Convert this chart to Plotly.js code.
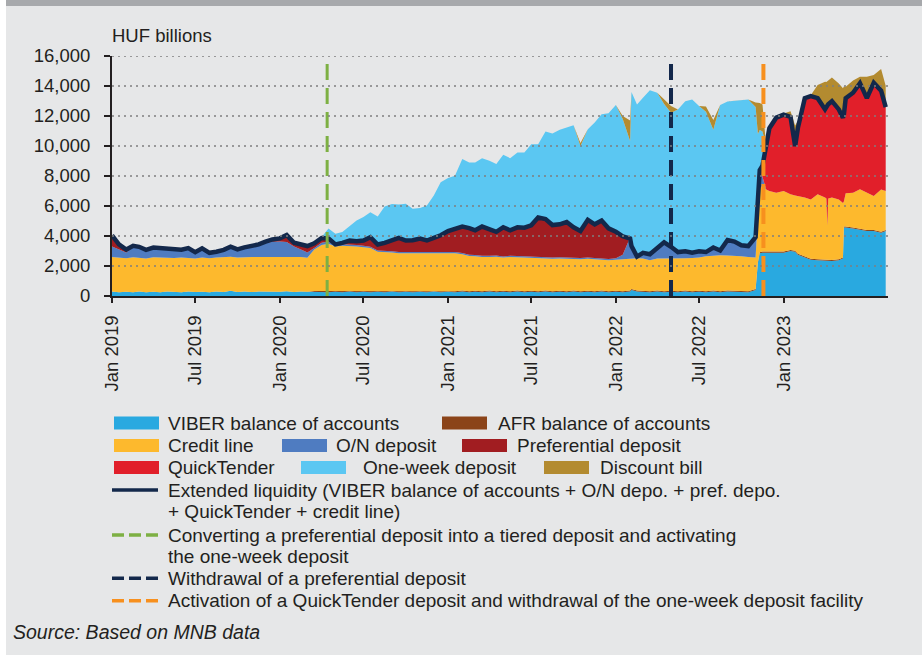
<!DOCTYPE html>
<html><head><meta charset="utf-8">
<script src="https://cdn.plot.ly/plotly-3.0.1.min.js"></script>
<style>
html,body{margin:0;padding:0;background:#ffffff;width:922px;height:657px;overflow:hidden}
#band{position:absolute;left:6px;top:0;width:916px;height:6px;background:#a7a9ac}
#chart{position:absolute;left:6px;top:6px;width:916px;height:649px}
</style></head><body>
<div id="band"></div><div id="chart"></div>
<script>
// ---------------- DATA (HUF billions) ----------------
const dates = [
 '2019-01-01','2019-01-16','2019-02-01','2019-02-16','2019-03-01','2019-03-16','2019-04-01','2019-04-16','2019-05-01','2019-05-16','2019-06-01','2019-06-16',
 '2019-07-01','2019-07-16','2019-08-01','2019-08-16','2019-09-01','2019-09-16','2019-10-01','2019-10-16','2019-11-01','2019-11-16','2019-12-01','2019-12-16',
 '2020-01-01','2020-01-16','2020-02-01','2020-02-16','2020-03-01','2020-03-16','2020-04-01','2020-04-16','2020-05-01','2020-05-16','2020-06-01','2020-06-16',
 '2020-07-01','2020-07-16','2020-08-01','2020-08-16','2020-09-01','2020-09-16','2020-10-01','2020-10-16','2020-11-01','2020-11-16','2020-12-01','2020-12-16',
 '2021-01-01','2021-01-16','2021-02-01','2021-02-16','2021-03-01','2021-03-16','2021-04-01','2021-04-16','2021-05-01','2021-05-16','2021-06-01','2021-06-16',
 '2021-07-01','2021-07-16','2021-08-01','2021-08-16','2021-09-01','2021-09-16','2021-10-01','2021-10-16','2021-11-01','2021-11-16','2021-12-01','2021-12-16',
 '2022-01-01','2022-01-16','2022-02-01','2022-02-04','2022-02-16','2022-03-01','2022-03-16','2022-04-01','2022-04-16','2022-05-01','2022-05-16','2022-06-01','2022-06-16',
 '2022-07-01','2022-07-16','2022-08-01','2022-08-16','2022-09-01','2022-09-16','2022-10-01','2022-10-16','2022-11-01','2022-11-06','2022-11-10','2022-11-16','2022-11-24','2022-12-01','2022-12-16',
 '2023-01-01','2023-01-16','2023-01-26','2023-02-01','2023-02-16','2023-03-01','2023-03-16','2023-04-01','2023-04-04','2023-04-06','2023-04-08','2023-04-16',
 '2023-05-01','2023-05-10','2023-05-12','2023-05-16','2023-06-01','2023-06-16','2023-07-01','2023-07-16','2023-08-01','2023-08-11'
];
const viberBalance = [
 300,250,280,250,300,250,280,250,300,270,250,300,260,280,250,300,260,350,260,300,260,300,280,300,
 280,320,260,300,280,300,280,250,280,250,300,250,280,250,280,250,300,250,280,250,280,250,300,250,
 280,250,300,250,280,250,300,250,280,250,300,250,280,250,300,250,280,250,300,250,280,250,300,250,
 280,250,300,400,300,280,250,300,250,280,250,300,250,280,250,300,250,300,280,300,250,400,2200,2850,2890,2890,2890,2890,
 2890,3000,2950,2750,2560,2420,2380,2330,2330,2330,2330,2330,2380,2500,4560,4560,4500,4440,4330,4330,4220,4330
];
const afrBalance = [
 0,0,0,0,0,0,0,0,0,0,0,0,0,0,0,0,0,0,0,0,0,0,0,0,
 0,0,0,0,0,40,60,60,60,60,60,60,60,60,60,60,60,60,60,60,60,60,60,60,
 70,70,70,70,70,70,70,70,70,70,70,70,70,70,70,70,70,70,70,70,70,70,70,70,
 70,70,70,70,70,70,70,70,70,70,70,70,70,70,70,70,70,70,70,70,70,70,70,70,70,70,70,70,
 70,70,70,70,70,70,70,70,70,70,70,70,70,70,70,70,70,70,70,70,70,70
];
const creditLine = [
 2300,2300,2240,2330,2250,2250,2300,2310,2220,2270,2310,2220,2240,2280,2270,2260,2320,2270,2300,2300,2340,2300,2300,2300,
 2320,2260,2340,2300,2270,2760,3060,3170,2960,3040,2990,2990,2910,2890,2610,2640,2540,2540,2510,2520,2460,2510,2470,2540,
 2470,2530,2410,2350,2300,2280,2230,2300,2210,2280,2210,2240,2150,2200,2130,2160,2150,2160,2100,2130,2130,2130,2030,2060,
 2070,2130,2130,2050,2150,2150,2070,2130,2180,2130,2180,2150,2220,2210,2330,2330,2400,2330,2350,2280,2280,2090,3230,4280,4370,4140,4040,3930,
 4040,3710,3680,3850,3930,3950,4330,4160,4100,2300,4100,4160,3990,3630,1670,2220,2320,2600,2490,2270,2810,2600
];
const onDeposit = [
 700,550,380,670,680,580,650,620,650,520,520,670,420,620,360,390,500,670,550,640,730,790,940,1020,
 1040,1020,700,500,350,100,150,150,100,100,100,100,100,80,80,80,80,80,80,80,80,80,80,80,
 80,80,80,80,80,80,80,80,80,80,80,80,80,80,80,80,80,80,80,80,80,80,80,80,
 100,300,1400,880,180,450,460,800,1150,870,500,530,410,490,350,600,380,1100,1000,800,800,1440,1200,1260,600,0,0,0,
 0,0,0,0,0,0,0,0,0,0,0,0,0,0,0,0,0,0,0,0,0,0
];
const preferentialDeposit = [
 750,350,200,100,50,0,0,0,0,0,0,0,0,0,0,0,0,0,0,0,0,50,100,150,
 200,460,250,340,430,350,380,270,100,150,300,310,410,700,460,570,780,1000,830,870,1010,860,1020,1180,
 1500,1620,1840,1850,1720,2020,1870,1650,2010,1770,1990,1980,2200,2700,2620,2240,2270,2440,2100,1870,2590,2320,2620,2120,
 1830,1300,0,0,0,0,0,0,0,0,0,0,0,0,0,0,0,0,0,0,0,0,0,0,0,0,0,0,
 0,0,0,0,0,0,0,0,0,0,0,0,0,0,0,0,0,0,0,0,0,0
];
const quickTender = [
 0,0,0,0,0,0,0,0,0,0,0,0,0,0,0,0,0,0,0,0,0,0,0,0,
 0,0,0,0,0,0,0,0,0,0,0,0,0,0,0,0,0,0,0,0,0,0,0,0,
 0,0,0,0,0,0,0,0,0,0,0,0,0,0,0,0,0,0,0,0,0,0,0,0,
 0,0,0,0,0,0,0,0,0,0,0,0,0,0,0,0,0,0,0,0,0,0,0,0,830,2860,4260,5070,
 5160,5230,3360,4610,6700,6950,6480,5950,6160,8060,6360,6500,6070,5760,5860,6410,6730,7150,6370,7610,6660,5660
];
const oneWeekDeposit = [
 0,0,0,0,0,0,0,0,0,0,0,0,0,0,0,0,0,0,0,0,0,0,0,0,
 0,0,0,0,0,0,0,600,650,670,890,1330,1500,1610,1810,2370,2380,2170,2390,2030,1970,2270,2770,3470,
 3470,3470,4430,4300,4450,4490,4470,4450,4760,4740,4920,4950,5340,4820,5760,6030,6240,6230,6730,5600,5970,6710,7010,7600,
 8380,7750,6440,10200,10070,10270,10870,10250,9150,8870,9440,9940,10150,9610,9290,7780,9640,9160,9320,9620,9700,8600,4100,2600,2200,0,0,0,
 0,0,0,0,0,0,0,0,0,0,0,0,0,0,0,0,0,0,0,0,0,0
];
const discountBill = [
 0,0,0,0,0,0,0,0,0,0,0,0,0,0,0,0,0,0,0,0,0,0,0,0,
 0,0,0,0,0,0,0,0,0,0,0,0,0,0,0,0,0,0,0,0,0,0,0,0,
 0,0,0,0,0,0,0,0,0,0,0,0,0,0,0,0,0,0,0,200,0,0,0,0,
 0,200,1360,0,0,0,0,0,300,440,0,0,0,0,340,660,0,0,0,0,0,300,2100,1800,1800,0,0,0,
 0,300,1300,400,50,0,800,1770,1600,1550,1500,1500,1660,1890,1800,690,740,350,1350,450,1370,1360
];
const extendedLiquidity = [
 4050,3450,3100,3350,3280,3080,3230,3180,3170,3060,3080,3190,2920,3180,2880,2950,3080,3290,3110,3240,3330,3440,3620,3770,
 3840,4060,3550,3440,3330,3510,3870,3840,3440,3540,3690,3650,3700,3920,3430,3540,3700,3870,3700,3720,3830,3700,3870,4050,
 4330,4480,4630,4530,4380,4630,4480,4280,4580,4380,4580,4550,4710,5230,5130,4730,4780,4930,4580,4330,5080,4780,5030,4510,
 4280,3980,3830,3330,2630,2880,2780,3230,3580,3280,2930,2980,2880,2980,2930,3230,3030,3730,3630,3380,3330,3930,6630,8390,8690,9890,11190,11890,
 12090,11940,9990,11210,13190,13320,13190,12440,12590,12690,12790,12990,12440,11890,12090,13190,13550,14190,13190,14210,13690,12590
];
const eventDates = ['2020-04-13', '2022-05-01', '2022-11-18'];
const eventNames = [
 'Converting a preferential deposit into a tiered deposit and activating<br>the one-week deposit',
 'Withdrawal of a preferential deposit',
 'Activation of a QuickTender deposit and withdrawal of the one-week deposit facility'
];
const xTickDates = ['2019-01-01','2019-07-01','2020-01-01','2020-07-01','2021-01-01','2021-07-01','2022-01-01','2022-07-01','2023-01-01'];
const xTickLabels = ['Jan 2019','Jul 2019','Jan 2020','Jul 2020','Jan 2021','Jul 2021','Jan 2022','Jul 2022','Jan 2023'];
const yTickValues = [0,2000,4000,6000,8000,10000,12000,14000,16000];

// ---------------- STYLE ----------------
const FONT = '"Liberation Sans", Arial, sans-serif';
const TXT = '#231f20';
const col = {
  viber:'#29a9e0', afr:'#8b4419', credit:'#fdb92d', on:'#4f7cc1', pref:'#a11d21',
  qt:'#e11f2a', week:'#5bc7f2', disc:'#b38b30', ext:'#13284b',
  green:'#7db043', navy:'#13284b', orange:'#f7901e'
};

function area(name, y, c) {
  return {type:'scatter', mode:'lines', x:dates, y:y, name:name, stackgroup:'one',
          line:{width:0, color:c}, fillcolor:c, hoverinfo:'skip'};
}
const traces = [
  area('VIBER balance of accounts', viberBalance, col.viber),
  area('AFR balance of accounts', afrBalance, col.afr),
  area('Credit line', creditLine, col.credit),
  area('O/N deposit', onDeposit, col.on),
  area('Preferential deposit', preferentialDeposit, col.pref),
  area('QuickTender', quickTender, col.qt),
  area('One-week deposit', oneWeekDeposit, col.week),
  area('Discount bill', discountBill, col.disc),
  {type:'scatter', mode:'lines', x:dates, y:extendedLiquidity, name:'Extended liquidity',
   line:{color:col.ext, width:4.5, shape:'linear'}, hoverinfo:'skip'}
];
const evColors = [col.green, col.navy, col.orange];
const evWidths = [3, 4, 4];
eventDates.forEach((d, i) => {
  traces.push({type:'scatter', mode:'lines', x:[d, d], y:[yTickValues[0], yTickValues[yTickValues.length-1]],
    name:eventNames[i], line:{color:evColors[i], width:evWidths[i], dash:'16px,8px'}, hoverinfo:'skip'});
});

// page-pixel helpers for the hand-laid legend (chart div starts at page (6,6))
const PX = x => (x - 112) / 776;
const PY = y => (296 - y) / 240;

const shapes = [];
const annotations = [];
// dotted gridlines drawn above the areas
yTickValues.slice(1).forEach(v => shapes.push({type:'line', xref:'paper', x0:0, x1:1, yref:'y', y0:v, y1:v,
  line:{color:'#7f7f7f', width:1.3, dash:'2px,4px'}, layer:'above'}));

annotations.push({xref:'paper', yref:'paper', x:PX(111), y:PY(35), xanchor:'left', yanchor:'middle', borderpad:0,
  text:'HUF billions', showarrow:false, font:{family:FONT, size:18.5, color:TXT}});

const legendBoxes = [
  ['VIBER balance of accounts', col.viber, 114, 423, 167],
  ['AFR balance of accounts', col.afr, 442, 423, 497],
  ['Credit line', col.credit, 114, 445.5, 167],
  ['O/N deposit', col.on, 282, 445.5, 335],
  ['Preferential deposit', col.pref, 462, 445.5, 516],
  ['QuickTender', col.qt, 114, 467.5, 167],
  ['One-week deposit', col.week, 301, 467.5, 362],
  ['Discount bill', col.disc, 544, 467.5, 599]
];
function legText(t, x, y, italic, size) {
  annotations.push({xref:'paper', yref:'paper', x:PX(x), y:PY(y), xanchor:'left', yanchor:'middle', borderpad:0,
    text:t, showarrow:false, font:{family:FONT, size:size || 19, color:TXT, style: italic ? 'italic' : 'normal'}});
}
legendBoxes.forEach(([t, c, x, y, tx]) => {
  shapes.push({type:'rect', xref:'paper', yref:'paper', x0:PX(x), x1:PX(x + 45), y0:PY(y + 6.5), y1:PY(y - 6.5),
    line:{width:0}, fillcolor:c, layer:'above'});
  legText(t, tx, y);
});
const legendLines = [
  ['Extended liquidity (VIBER balance of accounts + O/N depo. + pref. depo.', col.ext, 'solid', 490],
  ['+ QuickTender + credit line)', null, null, 511.7],
  [eventNames[0].split('<br>')[0], col.green, '12px,5px', 535],
  [eventNames[0].split('<br>')[1], null, null, 556.7],
  [eventNames[1], col.navy, '12px,5px', 578.3],
  [eventNames[2], col.orange, '12px,5px', 600.7]
];
legendLines.forEach(([t, c, dash, y]) => {
  if (c) shapes.push({type:'line', xref:'paper', yref:'paper', x0:PX(112), x1:PX(158), y0:PY(y), y1:PY(y),
    line:{color:c, width:3.5, dash:dash}, layer:'above'});
  legText(t, 167, y);
});
legText('Source: Based on MNB data', 12, 631.7, true, 19.5);

const layout = {
  width:916, height:649,
  margin:{l:106, r:34, t:50, b:359, pad:0},
  paper_bgcolor:'#e6e7e8', plot_bgcolor:'rgba(0,0,0,0)',
  showlegend:false,
  font:{family:FONT, size:18, color:TXT},
  xaxis:{type:'date', range:['2019-01-01','2023-08-16'], tickvals:xTickDates, ticktext:xTickLabels,
    tickangle:-90, ticks:'outside', ticklen:5, tickwidth:2, tickcolor:TXT,
    showline:true, linecolor:TXT, linewidth:2, showgrid:false, zeroline:false,
    tickfont:{family:FONT, size:18.5, color:TXT}, ticklabelstandoff:5, fixedrange:true},
  yaxis:{range:[0,16000], tickvals:yTickValues, tickformat:',d',
    ticks:'outside', ticklen:6, tickwidth:2, tickcolor:TXT,
    showline:true, linecolor:TXT, linewidth:2, showgrid:false, zeroline:false,
    tickfont:{family:FONT, size:18.5, color:TXT}, ticklabelstandoff:10, fixedrange:true},
  shapes:shapes,
  annotations:annotations
};
Plotly.newPlot('chart', traces, layout, {staticPlot:true, displayModeBar:false});
</script></body></html>
